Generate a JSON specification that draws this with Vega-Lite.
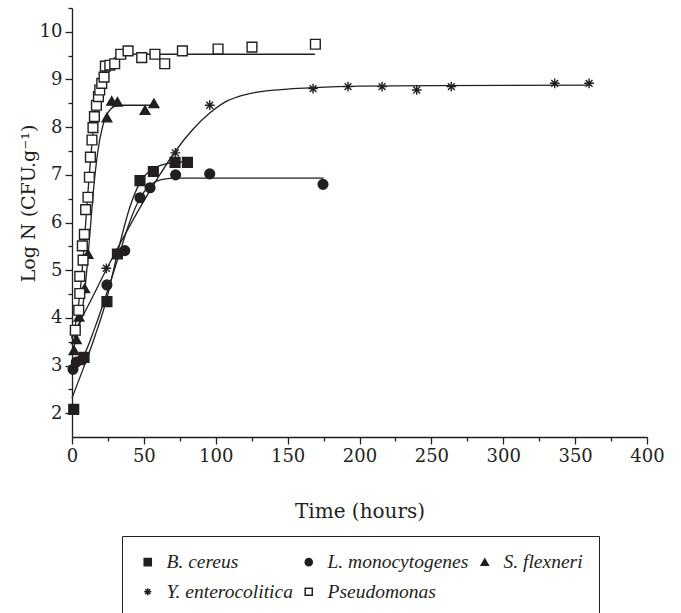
{
  "$schema": "https://vega.github.io/schema/vega-lite/v6.json",
  "autosize": "none",
  "padding": {"left": 72, "top": 8, "right": 34, "bottom": 176},
  "width": 575,
  "height": 429,
  "background": "white",
  "config": {
    "view": {"stroke": null},
    "axis": {
      "grid": false,
      "domainColor": "#231f20",
      "domainWidth": 1.3,
      "tickColor": "#231f20",
      "tickWidth": 1.3,
      "labelFont": "DejaVu Serif",
      "labelFontSize": 18,
      "labelColor": "#231f20",
      "titleFont": "DejaVu Serif",
      "titleFontSize": 18,
      "titleFontWeight": "normal",
      "titleColor": "#231f20"
    },
    "legend": {
      "labelFont": "Liberation Serif",
      "labelFontSize": 19.5,
      "labelFontStyle": "italic",
      "labelColor": "#231f20",
      "labelLimit": 400
    }
  },
  "datasets": {
    "points": [
      {"species": "B. cereus", "t": 1.2, "logN": 2.08},
      {"species": "B. cereus", "t": 8.4, "logN": 3.17},
      {"species": "B. cereus", "t": 24.3, "logN": 4.34},
      {"species": "B. cereus", "t": 31.6, "logN": 5.34},
      {"species": "B. cereus", "t": 47.3, "logN": 6.88},
      {"species": "B. cereus", "t": 56.6, "logN": 7.07},
      {"species": "B. cereus", "t": 71.7, "logN": 7.26},
      {"species": "B. cereus", "t": 80.3, "logN": 7.26},
      {"species": "L. monocytogenes", "t": 0.7, "logN": 2.92},
      {"species": "L. monocytogenes", "t": 3.0, "logN": 3.07},
      {"species": "L. monocytogenes", "t": 7.0, "logN": 3.12},
      {"species": "L. monocytogenes", "t": 24.3, "logN": 4.69},
      {"species": "L. monocytogenes", "t": 36.7, "logN": 5.41},
      {"species": "L. monocytogenes", "t": 47.3, "logN": 6.52},
      {"species": "L. monocytogenes", "t": 54.3, "logN": 6.73},
      {"species": "L. monocytogenes", "t": 72.1, "logN": 7.0},
      {"species": "L. monocytogenes", "t": 95.8, "logN": 7.02},
      {"species": "L. monocytogenes", "t": 174.6, "logN": 6.8},
      {"species": "S. flexneri", "t": 1.4, "logN": 3.32},
      {"species": "S. flexneri", "t": 3.0, "logN": 3.55},
      {"species": "S. flexneri", "t": 4.9, "logN": 4.02},
      {"species": "S. flexneri", "t": 8.8, "logN": 4.62},
      {"species": "S. flexneri", "t": 11.1, "logN": 5.34},
      {"species": "S. flexneri", "t": 24.3, "logN": 8.2},
      {"species": "S. flexneri", "t": 27.6, "logN": 8.55},
      {"species": "S. flexneri", "t": 31.6, "logN": 8.53},
      {"species": "S. flexneri", "t": 50.8, "logN": 8.36},
      {"species": "S. flexneri", "t": 57.0, "logN": 8.5},
      {"species": "Y. enterocolitica", "t": 1.9, "logN": 3.66},
      {"species": "Y. enterocolitica", "t": 23.9, "logN": 5.04},
      {"species": "Y. enterocolitica", "t": 71.9, "logN": 7.46},
      {"species": "Y. enterocolitica", "t": 95.8, "logN": 8.46},
      {"species": "Y. enterocolitica", "t": 167.7, "logN": 8.81},
      {"species": "Y. enterocolitica", "t": 192.0, "logN": 8.85},
      {"species": "Y. enterocolitica", "t": 215.7, "logN": 8.85},
      {"species": "Y. enterocolitica", "t": 239.8, "logN": 8.78},
      {"species": "Y. enterocolitica", "t": 263.9, "logN": 8.85},
      {"species": "Y. enterocolitica", "t": 335.8, "logN": 8.92},
      {"species": "Y. enterocolitica", "t": 359.7, "logN": 8.92},
      {"species": "Pseudomonas", "t": 2.3, "logN": 3.74},
      {"species": "Pseudomonas", "t": 4.7, "logN": 4.16},
      {"species": "Pseudomonas", "t": 5.4, "logN": 4.51},
      {"species": "Pseudomonas", "t": 5.4, "logN": 4.87},
      {"species": "Pseudomonas", "t": 7.7, "logN": 5.21},
      {"species": "Pseudomonas", "t": 7.2, "logN": 5.51},
      {"species": "Pseudomonas", "t": 8.6, "logN": 5.75},
      {"species": "Pseudomonas", "t": 9.5, "logN": 6.27},
      {"species": "Pseudomonas", "t": 11.1, "logN": 6.53},
      {"species": "Pseudomonas", "t": 12.1, "logN": 6.95},
      {"species": "Pseudomonas", "t": 12.8, "logN": 7.37},
      {"species": "Pseudomonas", "t": 13.9, "logN": 7.73},
      {"species": "Pseudomonas", "t": 14.6, "logN": 7.99},
      {"species": "Pseudomonas", "t": 15.6, "logN": 8.22},
      {"species": "Pseudomonas", "t": 17.0, "logN": 8.46},
      {"species": "Pseudomonas", "t": 18.4, "logN": 8.64},
      {"species": "Pseudomonas", "t": 19.3, "logN": 8.78},
      {"species": "Pseudomonas", "t": 20.7, "logN": 8.92},
      {"species": "Pseudomonas", "t": 22.3, "logN": 9.05},
      {"species": "Pseudomonas", "t": 23.2, "logN": 9.28},
      {"species": "Pseudomonas", "t": 26.3, "logN": 9.3},
      {"species": "Pseudomonas", "t": 29.7, "logN": 9.33},
      {"species": "Pseudomonas", "t": 33.9, "logN": 9.53},
      {"species": "Pseudomonas", "t": 39.0, "logN": 9.6},
      {"species": "Pseudomonas", "t": 48.5, "logN": 9.46},
      {"species": "Pseudomonas", "t": 57.7, "logN": 9.53},
      {"species": "Pseudomonas", "t": 64.5, "logN": 9.33},
      {"species": "Pseudomonas", "t": 76.8, "logN": 9.6},
      {"species": "Pseudomonas", "t": 101.6, "logN": 9.64},
      {"species": "Pseudomonas", "t": 125.2, "logN": 9.68},
      {"species": "Pseudomonas", "t": 169.3, "logN": 9.74}
    ],
    "curves": [
      {"species": "B. cereus", "t": 0, "logN": 2.32},
      {"species": "B. cereus", "t": 8, "logN": 2.95},
      {"species": "B. cereus", "t": 16, "logN": 3.62},
      {"species": "B. cereus", "t": 24, "logN": 4.38},
      {"species": "B. cereus", "t": 32, "logN": 5.4},
      {"species": "B. cereus", "t": 40, "logN": 6.3},
      {"species": "B. cereus", "t": 48, "logN": 6.88},
      {"species": "B. cereus", "t": 56, "logN": 7.12},
      {"species": "B. cereus", "t": 64, "logN": 7.22},
      {"species": "B. cereus", "t": 72, "logN": 7.26},
      {"species": "B. cereus", "t": 80, "logN": 7.27},
      {"species": "L. monocytogenes", "t": 0, "logN": 2.95},
      {"species": "L. monocytogenes", "t": 8, "logN": 3.2},
      {"species": "L. monocytogenes", "t": 16, "logN": 3.8},
      {"species": "L. monocytogenes", "t": 24, "logN": 4.5},
      {"species": "L. monocytogenes", "t": 32, "logN": 5.25},
      {"species": "L. monocytogenes", "t": 40, "logN": 6.0},
      {"species": "L. monocytogenes", "t": 48, "logN": 6.55},
      {"species": "L. monocytogenes", "t": 56, "logN": 6.82},
      {"species": "L. monocytogenes", "t": 64, "logN": 6.91},
      {"species": "L. monocytogenes", "t": 72, "logN": 6.93},
      {"species": "L. monocytogenes", "t": 100, "logN": 6.93},
      {"species": "L. monocytogenes", "t": 175, "logN": 6.93},
      {"species": "S. flexneri", "t": 0, "logN": 3.3},
      {"species": "S. flexneri", "t": 3, "logN": 3.55},
      {"species": "S. flexneri", "t": 6, "logN": 3.95},
      {"species": "S. flexneri", "t": 9, "logN": 4.6},
      {"species": "S. flexneri", "t": 12, "logN": 5.6},
      {"species": "S. flexneri", "t": 15, "logN": 6.7},
      {"species": "S. flexneri", "t": 18, "logN": 7.5},
      {"species": "S. flexneri", "t": 21, "logN": 7.98},
      {"species": "S. flexneri", "t": 24, "logN": 8.25},
      {"species": "S. flexneri", "t": 27, "logN": 8.38},
      {"species": "S. flexneri", "t": 30, "logN": 8.44},
      {"species": "S. flexneri", "t": 35, "logN": 8.46},
      {"species": "S. flexneri", "t": 57.5, "logN": 8.46},
      {"species": "Y. enterocolitica", "t": 0, "logN": 3.6},
      {"species": "Y. enterocolitica", "t": 12, "logN": 4.3},
      {"species": "Y. enterocolitica", "t": 24, "logN": 5.02},
      {"species": "Y. enterocolitica", "t": 36, "logN": 5.7},
      {"species": "Y. enterocolitica", "t": 48, "logN": 6.35},
      {"species": "Y. enterocolitica", "t": 60, "logN": 6.95},
      {"species": "Y. enterocolitica", "t": 72, "logN": 7.5},
      {"species": "Y. enterocolitica", "t": 84, "logN": 7.95},
      {"species": "Y. enterocolitica", "t": 96, "logN": 8.3},
      {"species": "Y. enterocolitica", "t": 108, "logN": 8.55},
      {"species": "Y. enterocolitica", "t": 120, "logN": 8.68},
      {"species": "Y. enterocolitica", "t": 135, "logN": 8.76},
      {"species": "Y. enterocolitica", "t": 150, "logN": 8.8},
      {"species": "Y. enterocolitica", "t": 168, "logN": 8.83},
      {"species": "Y. enterocolitica", "t": 200, "logN": 8.86},
      {"species": "Y. enterocolitica", "t": 250, "logN": 8.87},
      {"species": "Y. enterocolitica", "t": 360, "logN": 8.88},
      {"species": "Pseudomonas", "t": 0, "logN": 3.55},
      {"species": "Pseudomonas", "t": 2, "logN": 3.8},
      {"species": "Pseudomonas", "t": 4, "logN": 4.15},
      {"species": "Pseudomonas", "t": 6, "logN": 4.65},
      {"species": "Pseudomonas", "t": 8, "logN": 5.35},
      {"species": "Pseudomonas", "t": 10, "logN": 6.2},
      {"species": "Pseudomonas", "t": 12, "logN": 7.0},
      {"species": "Pseudomonas", "t": 14, "logN": 7.7},
      {"species": "Pseudomonas", "t": 16, "logN": 8.25},
      {"species": "Pseudomonas", "t": 18, "logN": 8.62},
      {"species": "Pseudomonas", "t": 20, "logN": 8.9},
      {"species": "Pseudomonas", "t": 22, "logN": 9.1},
      {"species": "Pseudomonas", "t": 24, "logN": 9.25},
      {"species": "Pseudomonas", "t": 27, "logN": 9.38},
      {"species": "Pseudomonas", "t": 30, "logN": 9.46},
      {"species": "Pseudomonas", "t": 35, "logN": 9.51},
      {"species": "Pseudomonas", "t": 40, "logN": 9.53},
      {"species": "Pseudomonas", "t": 169, "logN": 9.53}
    ]
  },
  "encoding": {
    "x": {
      "field": "t", "type": "quantitative",
      "scale": {"domain": [0, 400], "nice": false, "zero": false},
      "axis": {
        "title": "Time (hours)",
        "titleFontSize": 20,
        "values": [0, 25, 50, 75, 100, 125, 150, 175, 200, 225, 250, 275, 300, 325, 350, 375, 400],
        "labelExpr": "datum.value % 50 === 0 ? datum.label : ''",
        "tickSize": {"condition": {"test": "datum.value % 50 === 0", "value": 7}, "value": 4},
        "labelPadding": 3,
        "labelFlush": false,
        "titleY": 74,
        "titleBaseline": "middle"
      }
    },
    "y": {
      "field": "logN", "type": "quantitative",
      "scale": {"domain": [1.5, 10.5], "nice": false, "zero": false},
      "axis": {
        "title": "Log N (CFU.g⁻¹)",
        "titleFontSize": 19,
        "values": [2, 2.5, 3, 3.5, 4, 4.5, 5, 5.5, 6, 6.5, 7, 7.5, 8, 8.5, 9, 9.5, 10, 10.5],
        "labelExpr": "datum.value % 1 === 0 ? format(datum.value, 'd') : ''",
        "tickSize": {"condition": {"test": "datum.value % 1 === 0", "value": 7}, "value": 4},
        "labelPadding": 3,
        "labelFlush": false,
        "titleX": -44,
        "titleY": 195,
        "titleAngle": -90,
        "titleAlign": "center",
        "titleBaseline": "middle"
      }
    }
  },
  "layer": [
    {
      "data": {"name": "curves"},
      "mark": {"type": "line", "interpolate": "monotone", "color": "#231f20", "strokeWidth": 1.3},
      "encoding": {"detail": {"field": "species", "type": "nominal"}}
    },
    {
      "data": {"name": "points"},
      "mark": {"type": "point", "size": 95, "color": "#231f20", "stroke": "#231f20", "strokeWidth": 1.4, "opacity": 1, "filled": true},
      "encoding": {
        "shape": {
          "field": "species", "type": "nominal",
          "scale": {
            "domain": ["B. cereus", "L. monocytogenes", "S. flexneri", "Y. enterocolitica", "Pseudomonas"],
            "range": ["square", "circle", "triangle-up", "M0,-1L0,1M-1,0L1,0M-0.7,-0.7L0.7,0.7M-0.7,0.7L0.7,-0.7", "square"]
          },
          "legend": {
            "title": null,
            "orient": "none",
            "legendX": 50,
            "legendY": 528,
            "direction": "horizontal",
            "columns": 3,
            "columnPadding": 6,
            "rowPadding": 9,
            "padding": 16,
            "strokeColor": "#231f20",
            "fillColor": "white",
            "symbolSize": 50,
            "labelOffset": 9,
            "encode": {"symbols": {"update": {"stroke": {"value": "#231f20"}, "strokeWidth": {"value": 1.2}}}}
          }
        },
        "fill": {
          "field": "species", "type": "nominal",
          "scale": {
            "domain": ["B. cereus", "L. monocytogenes", "S. flexneri", "Y. enterocolitica", "Pseudomonas"],
            "range": ["#231f20", "#231f20", "#231f20", "#231f20", "white"]
          },
          "legend": {
            "title": null,
            "orient": "none",
            "legendX": 50,
            "legendY": 528,
            "direction": "horizontal",
            "columns": 3,
            "columnPadding": 6,
            "rowPadding": 9,
            "padding": 16,
            "strokeColor": "#231f20",
            "fillColor": "white",
            "symbolSize": 50,
            "labelOffset": 9,
            "encode": {"symbols": {"update": {"stroke": {"value": "#231f20"}, "strokeWidth": {"value": 1.2}}}}
          }
        }
      }
    }
  ]
}
